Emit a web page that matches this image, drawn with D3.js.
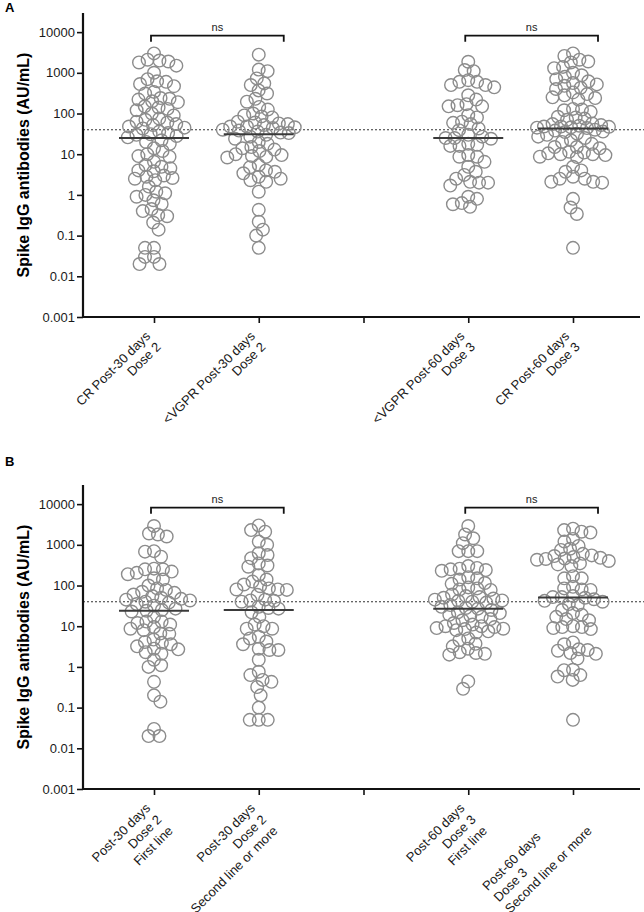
<!DOCTYPE html>
<html>
<head>
<meta charset="utf-8">
<script src="https://cdn.jsdelivr.net/npm/d3@7"></script>
<style>
  html, body { margin: 0; padding: 0; background: #fff; }
  svg { display: block; font-family: "Liberation Sans", Arial, sans-serif; }
</style>
</head>
<body>
<svg id="chart" width="644" height="912"></svg>
<script>
// ---------------- DATA ----------------
const panelLabels = ["A", "B"];
const yAxisTitle = "Spike IgG antibodies (AU/mL)";
const yTickValues = [0.001, 0.01, 0.1, 1, 10, 100, 1000, 10000];
const threshold = 40;
const comparisonLabel = "ns";

const categoriesA = [
  ["CR Post-30 days", "Dose 2"],
  ["<VGPR Post-30 days", "Dose 2"],
  ["<VGPR Post-60 days", "Dose 3"],
  ["CR Post-60 days", "Dose 3"]
];
const categoriesB = [
  ["Post-30 days", "Dose 2", "First line"],
  ["Post-30 days", "Dose 2", "Second line or more"],
  ["Post-60 days", "Dose 3", "First line"],
  ["Post-60 days", "Dose 3", "Second line or more"]
];

const valuesA1 = [3000, 2100, 2000, 1900, 1800, 1500, 1000, 700, 620, 600, 530, 470, 340, 310, 240, 230, 220, 200, 190, 150, 140, 130, 120, 100, 90, 75, 70, 63, 60, 55, 52, 48, 45, 43, 36, 33, 31, 30, 28, 26,
  22, 20, 18, 14, 12, 10, 9, 8.7, 6.5, 5.4, 4.9, 4.5, 4, 3.8, 3, 2.8, 2.6, 2.5, 2.3, 1.6, 1.2, 1.1, 1.0, 0.9, 0.74, 0.6, 0.45, 0.4, 0.32, 0.3, 0.21, 0.14, 0.05, 0.05, 0.03, 0.03, 0.02, 0.02];
const valuesA2 = [2800, 1200, 1100, 730, 550, 500, 370, 310, 230, 195, 145, 125, 100, 90, 85, 80, 63, 60, 57, 55, 52, 48, 48, 46, 44, 40, 38, 36, 34, 33,
  30, 27, 24, 20, 18, 15, 14, 13, 12, 10, 9.5, 9, 8.6, 8.3, 5.4, 4.8, 4, 3.7, 3.4, 2.8, 2.5, 2.3, 2.1, 1.2, 0.43, 0.22, 0.14, 0.1, 0.05];
const valuesA3 = [1870, 1170, 1100, 660, 600, 600, 500, 500, 440, 280, 220, 150, 150, 160, 170, 91, 80, 63, 59, 55, 43, 39, 30, 27, 25,
  25, 24, 18, 17, 16, 16, 9.5, 8.7, 8.7, 6.5, 4.9, 3.7, 3.1, 2.5, 2.1, 2.0, 2.0, 1.7, 0.9, 0.8, 0.63, 0.59, 0.51];
const valuesA4 = [3000, 2600, 2100, 1900, 1800, 1400, 1300, 1000, 870, 800, 700, 620, 560, 520, 480, 430, 400, 330, 300, 280, 250, 240, 220, 130, 125, 120, 110, 83, 80, 75, 70, 57, 55, 52, 50, 48, 48, 47, 46, 45, 44,
  40, 38, 36, 35, 32, 30, 27, 25, 22, 20, 18, 15, 15, 14, 11.5, 11, 10.5, 10, 10, 9.5, 8.7, 8.5, 4.9, 4, 3.7, 2.8, 2.5, 2.5, 2.1, 2.1, 2.0, 0.8, 0.49, 0.34, 0.05];

const valuesB1 = [2900, 1900, 1800, 1600, 700, 680, 510, 260, 250, 250, 220, 205, 190, 150, 140, 100, 85, 78, 70, 66, 60, 55, 50, 47, 45, 43, 40, 38, 35, 32,
  27, 25, 24, 23, 17, 13, 13, 12, 11, 9.5, 8.7, 8, 6.6, 6.5, 4.7, 4.1, 3.9, 3.6, 3.2, 2.8, 2.7, 2.3, 2.1, 1.5, 1.1, 1.0, 0.43, 0.2, 0.14, 0.03, 0.02, 0.02];
const valuesB2 = [3000, 2300, 2100, 1200, 1000, 620, 560, 470, 350, 310, 290, 180, 140, 125, 106, 96, 85, 80, 80, 78, 59, 45, 43, 42, 40,
  30, 28, 27, 22, 17, 11, 10, 8.7, 8.7, 5.5, 5, 4.2, 3.6, 2.8, 2.6, 2.6, 1.5, 0.76, 0.63, 0.48, 0.43, 0.32, 0.2, 0.1, 0.05, 0.05, 0.05];
const valuesB3 = [2900, 1800, 1450, 1100, 700, 700, 700, 300, 270, 260, 250, 240, 230, 160, 150, 140, 115, 110, 90, 85, 80, 78, 60, 55, 52, 50, 48, 45, 43, 42, 40, 38,
  33, 30, 28, 27, 25, 22, 21, 19, 18, 17, 15, 14, 12, 11, 10, 10, 9.5, 9, 8.7, 8.5, 8, 7.5, 7, 5, 4.5, 3.7, 3.2, 2.8, 2.3, 2.2, 2.1, 2.0, 0.44, 0.29];
const valuesB4 = [2500, 2300, 2100, 2000, 1400, 1200, 940, 800, 750, 600, 550, 530, 500, 480, 460, 450, 430, 400, 350, 330, 300, 170, 150, 150, 93, 85, 80, 78, 55, 52, 52, 50,
  46, 42, 40, 35, 33, 25, 21, 19, 17, 15, 14, 10, 9.5, 9.5, 9, 8.5, 4, 3.6, 2.7, 2.6, 2.5, 2.2, 2.1, 1.6, 0.85, 0.83, 0.63, 0.58, 0.48, 0.05];

const mediansA = [25, 31, 25, 43];
const mediansB = [24, 25, 27, 51];

// comparisons: pairs of group indices
const comparisons = [[0, 1], [2, 3]];

// ---------------- LAYOUT ----------------
const svg = d3.select("#chart");
const font = '"Liberation Sans", Arial, sans-serif';
const axisLeftX = 83;
const axisRightX = 640;
const pointColor = "#8c8c8c";
const R = 6.3;
const maxSpread = 36;

const panels = [
  { label: panelLabels[0], labelY: 12, top: 13, bottom: 317, cats: categoriesA, vals: [valuesA1, valuesA2, valuesA3, valuesA4], med: mediansA, lineH: 15, leftAlign: [] },
  { label: panelLabels[1], labelY: 466, top: 485, bottom: 789, cats: categoriesB, vals: [valuesB1, valuesB2, valuesB3, valuesB4], med: mediansB, lineH: 16, leftAlign: [3] }
];

const slotKeys = ["g0", "g1", "gap", "g2", "g3"];
const x = d3.scalePoint().domain(slotKeys).range([154, 573]);
const groupKey = i => ["g0", "g1", "g2", "g3"][i];

// deterministic beeswarm: closest free offset to the centre, limited width
function swarm(values, y, D) {
  const pts = values.map(v => ({ v, y: y(v) })).sort((a, b) => a.y - b.y);
  const placed = [];
  pts.forEach((p, idx) => {
    const near = placed.filter(q => Math.abs(q.y - p.y) < D);
    const cands = [0];
    near.forEach(q => {
      const dx = Math.sqrt(D * D - (q.y - p.y) ** 2);
      cands.push(q.x + dx, q.x - dx);
    });
    const sgn = idx % 2 ? 1 : -1;
    cands.sort((a, b) => (Math.abs(a) - Math.abs(b)) || (sgn * (a - b)));
    let chosen = null;
    for (const c of cands) {
      if (Math.abs(c) > maxSpread) continue;
      if (near.every(q => (q.x - c) ** 2 + (q.y - p.y) ** 2 >= D * D - 0.01)) { chosen = c; break; }
    }
    if (chosen === null) {
      // least crowded position within the allowed width
      let best = 0, bestScore = Infinity;
      for (let c = -maxSpread; c <= maxSpread; c += 2) {
        const s = d3.min(near, q => (q.x - c) ** 2 + (q.y - p.y) ** 2);
        const score = -s;
        if (score < bestScore) { bestScore = score; best = c; }
      }
      chosen = best;
    }
    p.x = chosen;
    placed.push(p);
  });
  return placed;
}

panels.forEach(P => {
  const g = svg.append("g");
  const y = d3.scaleLog().domain([0.001, Math.pow(10, 4.47)]).range([P.bottom, P.top]);

  // panel letter
  g.append("text").attr("x", 5).attr("y", P.labelY)
    .attr("font-size", 13).attr("font-weight", "bold").attr("fill", "#000").text(P.label);

  // y title
  g.append("text")
    .attr("transform", `translate(29,${(P.top + P.bottom) / 2}) rotate(-90)`)
    .attr("text-anchor", "middle").attr("font-size", 16).attr("font-weight", "bold")
    .attr("fill", "#000").text(yAxisTitle);

  // threshold dotted line
  g.append("line")
    .attr("x1", axisLeftX).attr("x2", 644)
    .attr("y1", y(threshold)).attr("y2", y(threshold))
    .attr("stroke", "#333").attr("stroke-width", 1.1).attr("stroke-dasharray", "2,2");

  // points
  P.vals.forEach((vals, i) => {
    const cx = x(groupKey(i));
    const pts = swarm(vals, y, 9);
    g.append("g").selectAll("circle").data(pts).join("circle")
      .attr("cx", d => cx + d.x).attr("cy", d => d.y).attr("r", R)
      .attr("fill", "none").attr("stroke", pointColor).attr("stroke-width", 1.4);
  });

  // medians
  P.med.forEach((m, i) => {
    const cx = x(groupKey(i));
    g.append("line").attr("x1", cx - 35).attr("x2", cx + 35)
      .attr("y1", y(m)).attr("y2", y(m))
      .attr("stroke", "#3a3a3a").attr("stroke-width", 2);
  });

  // y axis
  const ya = g.append("g").attr("transform", `translate(${axisLeftX},0)`)
    .call(d3.axisLeft(y).tickValues(yTickValues).tickSizeOuter(0).tickSize(6).tickPadding(2)
      .tickFormat(d => String(d)));
  ya.select(".domain").attr("stroke", "#111").attr("stroke-width", 2.2)
    .attr("d", `M0,${P.top}V${P.bottom}`);
  ya.selectAll(".tick line").attr("stroke", "#111").attr("stroke-width", 1.6);
  ya.selectAll(".tick text").attr("font-size", 13).attr("font-family", font).attr("fill", "#1a1a1a");

  // x axis
  const xa = g.append("g").attr("transform", `translate(0,${P.bottom})`)
    .call(d3.axisBottom(x).tickSize(6).tickSizeOuter(0).tickFormat(""));
  xa.select(".domain").remove();
  xa.selectAll(".tick line").attr("stroke", "#111").attr("stroke-width", 1.6);
  g.append("line").attr("x1", axisLeftX - 1).attr("x2", axisRightX)
    .attr("y1", P.bottom).attr("y2", P.bottom)
    .attr("stroke", "#111").attr("stroke-width", 2.2);

  // x labels (rotated)
  P.cats.forEach((lines, i) => {
    const tx = x(groupKey(i));
    const lg = g.append("g").attr("transform", `translate(${tx - 3},${P.bottom + 20}) rotate(-45)`);
    const texts = lines.map((t, k) => lg.append("text")
      .attr("x", 0).attr("y", k * P.lineH)
      .attr("text-anchor", "end").attr("font-size", 13).attr("fill", "#1a1a1a").text(t));
    if (P.leftAlign.includes(i)) {
      const w = d3.max(texts, t => t.node().getComputedTextLength());
      texts.forEach(t => t.attr("text-anchor", "start").attr("x", -w));
    }
  });

  // comparison brackets
  comparisons.forEach(([a, b]) => {
    const x1 = x(groupKey(a)) - 3, x2 = x(groupKey(b)) + 25;
    const by = y(10000) + 3.5;
    g.append("path").attr("d", `M${x1},${by + 6}V${by}H${x2}V${by + 6}`)
      .attr("fill", "none").attr("stroke", "#111").attr("stroke-width", 1.8);
    g.append("text").attr("x", (x1 + x2) / 2).attr("y", by - 5)
      .attr("text-anchor", "middle").attr("font-size", 11).attr("fill", "#222").text(comparisonLabel);
  });
});
</script>
</body>
</html>
